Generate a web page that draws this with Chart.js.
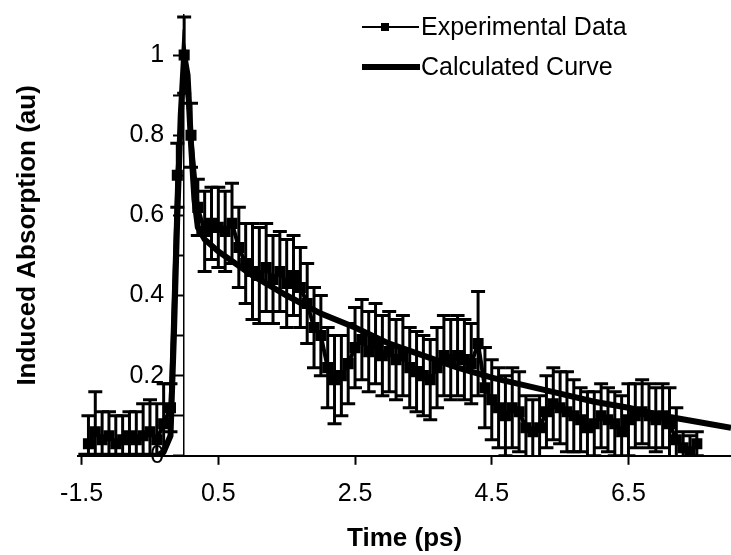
<!DOCTYPE html>
<html>
<head>
<meta charset="utf-8">
<script src="https://cdn.jsdelivr.net/npm/chart.js@4/dist/chart.umd.min.js"></script>
<style>
  html, body { margin: 0; padding: 0; background: #fff; }
  #wrap { width: 731px; height: 555px; }
</style>
</head>
<body>
<div id="wrap"><canvas id="chart"></canvas></div>
<script>
// experimental points (ps, au) and their error half-widths
const expTime = [-1.4, -1.3, -1.2, -1.1, -1.0, -0.9, -0.8, -0.7, -0.6, -0.5,
  -0.4, -0.3, -0.2, -0.1, 0.0, 0.1, 0.2, 0.3, 0.4, 0.5,
  0.6, 0.7, 0.8, 0.9, 1.0, 1.1, 1.2, 1.3, 1.4, 1.5,
  1.6, 1.7, 1.8, 1.9, 2.0, 2.1, 2.2, 2.3, 2.4, 2.5,
  2.6, 2.7, 2.8, 2.9, 3.0, 3.1, 3.2, 3.3, 3.4, 3.5,
  3.6, 3.7, 3.8, 3.9, 4.0, 4.1, 4.2, 4.3, 4.4, 4.5,
  4.6, 4.7, 4.8, 4.9, 5.0, 5.1, 5.2, 5.3, 5.4, 5.5,
  5.6, 5.7, 5.8, 5.9, 6.0, 6.1, 6.2, 6.3, 6.4, 6.5,
  6.6, 6.7, 6.8, 6.9, 7.0, 7.1, 7.2, 7.3, 7.4, 7.5];
const expValue = [0.03, 0.06, 0.04, 0.05, 0.03, 0.04, 0.05, 0.04, 0.05, 0.06,
  0.04, 0.08, 0.12, 0.70, 1.00, 0.80, 0.62, 0.56, 0.58, 0.57,
  0.56, 0.58, 0.52, 0.48, 0.46, 0.45, 0.47, 0.44, 0.46, 0.43,
  0.45, 0.42, 0.38, 0.32, 0.30, 0.22, 0.19, 0.20, 0.23, 0.27,
  0.29, 0.26, 0.28, 0.25, 0.26, 0.24, 0.25, 0.22, 0.21, 0.20,
  0.19, 0.22, 0.25, 0.24, 0.25, 0.24, 0.23, 0.28, 0.17, 0.14,
  0.12, 0.10, 0.12, 0.11, 0.07, 0.06, 0.07, 0.11, 0.13, 0.12,
  0.11, 0.10, 0.09, 0.07, 0.08, 0.10, 0.09, 0.08, 0.06, 0.09,
  0.10, 0.11, 0.10, 0.09, 0.10, 0.08, 0.04, 0.02, 0.01, 0.03];
const expError = [0.07, 0.10, 0.07, 0.06, 0.07, 0.06, 0.06, 0.07, 0.08, 0.08,
  0.09, 0.10, 0.06, 0.08, 0.095, 0.08, 0.07, 0.10, 0.09, 0.10,
  0.10, 0.10, 0.10, 0.10, 0.12, 0.12, 0.11, 0.11, 0.10, 0.11,
  0.10, 0.10, 0.10, 0.10, 0.10, 0.10, 0.11, 0.10, 0.10, 0.10,
  0.10, 0.10, 0.10, 0.10, 0.10, 0.10, 0.10, 0.10, 0.10, 0.10,
  0.10, 0.10, 0.10, 0.10, 0.10, 0.10, 0.10, 0.13, 0.10, 0.10,
  0.10, 0.10, 0.10, 0.10, 0.08, 0.08, 0.08, 0.09, 0.09, 0.09,
  0.10, 0.09, 0.08, 0.09, 0.08, 0.08, 0.08, 0.08, 0.09, 0.09,
  0.08, 0.08, 0.08, 0.08, 0.08, 0.09, 0.08, 0.04, 0.04, 0.03];

// calculated curve
const calcTime = [-1.55, -0.4, -0.3, -0.2, -0.15, -0.1, -0.05, 0.0, 0.05, 0.1,
  0.15, 0.2, 0.3, 0.5, 1.0, 1.5, 2.0, 2.5, 3.0, 3.5,
  4.0, 4.5, 5.0, 5.5, 6.0, 6.5, 7.0, 7.5, 8.0];
const calcValue = [0.0, 0.0, 0.01, 0.05, 0.30, 0.60, 0.85, 1.00, 0.95, 0.78,
  0.64, 0.57, 0.54, 0.51, 0.45, 0.40, 0.355, 0.32, 0.28, 0.25,
  0.22, 0.195, 0.175, 0.155, 0.135, 0.12, 0.10, 0.085, 0.07];

const xTicks = [-1.5, 0.5, 2.5, 4.5, 6.5];
const yTicks = [0, 0.1, 0.2, 0.3, 0.4, 0.5, 0.6, 0.7, 0.8, 0.9, 1.0];
const yLabels = ['0', '', '0.2', '', '0.4', '', '0.6', '', '0.8', '', '1'];
const seriesNames = ['Experimental Data', 'Calculated Curve'];

const FONT = "'Liberation Sans', Arial, sans-serif";

// y tick labels sit left of the axis, which crosses at t = 0
const yTickLabels = {
  id: 'yTickLabels',
  beforeDatasetsDraw(chart) {
    const { ctx } = chart;
    const x = chart.scales.x, y = chart.scales.y;
    const ax = x.getPixelForValue(0);
    ctx.save();
    ctx.font = '25px ' + FONT;
    ctx.fillStyle = '#000';
    ctx.textAlign = 'right';
    ctx.textBaseline = 'middle';
    yTicks.forEach((v, i) => {
      if (yLabels[i]) ctx.fillText(yLabels[i], ax - 20, y.getPixelForValue(v));
    });
    ctx.restore();
  }
};

const errorBars = {
  id: 'errorBars',
  afterDatasetsDraw(chart) {
    const { ctx, chartArea } = chart;
    const x = chart.scales.x, y = chart.scales.y;
    ctx.save();
    ctx.beginPath();
    ctx.rect(chartArea.left, 0, chartArea.right - chartArea.left, chartArea.bottom);
    ctx.clip();
    ctx.strokeStyle = '#000';
    ctx.lineWidth = 3;
    expTime.forEach((t, i) => {
      const px = x.getPixelForValue(t);
      const top = y.getPixelForValue(expValue[i] + expError[i]);
      const bot = y.getPixelForValue(expValue[i] - expError[i]);
      ctx.beginPath();
      ctx.moveTo(px, top);
      ctx.lineTo(px, bot);
      ctx.moveTo(px - 7, top);
      ctx.lineTo(px + 7, top);
      ctx.moveTo(px - 7, bot);
      ctx.lineTo(px + 7, bot);
      ctx.stroke();
    });
    ctx.restore();
  }
};

const legendBox = {
  id: 'legendBox',
  afterDraw(chart) {
    const ctx = chart.ctx;
    ctx.save();
    ctx.strokeStyle = '#000';
    ctx.fillStyle = '#000';
    ctx.lineWidth = 2;
    ctx.beginPath();
    ctx.moveTo(362, 27);
    ctx.lineTo(419, 27);
    ctx.stroke();
    ctx.fillRect(381, 23, 8, 8);
    ctx.lineWidth = 6;
    ctx.beginPath();
    ctx.moveTo(362, 67);
    ctx.lineTo(420, 67);
    ctx.stroke();
    ctx.font = '25px ' + FONT;
    ctx.textBaseline = 'middle';
    ctx.fillText(seriesNames[0], 421, 28);
    ctx.fillText(seriesNames[1], 421, 68);
    ctx.restore();
  }
};

new Chart(document.getElementById('chart'), {
  type: 'line',
  data: {
    datasets: [{
      label: seriesNames[1],
      data: calcTime.map((t, i) => ({ x: t, y: calcValue[i] })),
      borderColor: '#000',
      borderWidth: 6,
      pointRadius: 0,
      tension: 0
    }, {
      label: seriesNames[0],
      data: expTime.map((t, i) => ({ x: t, y: expValue[i] })),
      borderColor: '#000',
      backgroundColor: '#000',
      borderWidth: 4,
      pointStyle: 'rect',
      pointRadius: 5,
      tension: 0
    }]
  },
  options: {
    responsive: true,
    maintainAspectRatio: false,
    animation: false,
    layout: { autoPadding: false, padding: { left: 0, right: 0, top: 15, bottom: 1 } },
    plugins: { legend: { display: false }, tooltip: { enabled: false } },
    scales: {
      x: {
        type: 'linear',
        position: 'bottom',
        min: -1.55,
        max: 8,
        afterBuildTicks: axis => { axis.ticks = xTicks.map(v => ({ value: v })); },
        grid: { drawOnChartArea: false, drawTicks: true, tickLength: 9, tickWidth: 2, tickColor: '#000' },
        border: { display: true, color: '#000', width: 2 },
        ticks: { color: '#000', font: { family: FONT, size: 25 }, padding: 14, maxRotation: 0,
          callback: v => String(v) },
        title: { display: true, text: 'Time (ps)', color: '#000',
          font: { family: FONT, size: 26, weight: 'bold' }, padding: { top: 0, bottom: 0 } }
      },
      y: {
        type: 'linear',
        position: { x: 0 },
        min: 0,
        max: 1.1,
        afterBuildTicks: axis => { axis.ticks = yTicks.map(v => ({ value: v })); },
        grid: { drawOnChartArea: false, drawTicks: true, tickLength: 10, tickWidth: 2, tickColor: '#000' },
        border: { display: true, color: '#000', width: 1.5 },
        ticks: { display: false }
      },
      yTitle: {
        type: 'linear',
        position: 'left',
        grid: { display: false, drawTicks: false },
        border: { display: false },
        ticks: { display: false },
        title: { display: true, text: 'Induced Absorption (au)', color: '#000',
          font: { family: FONT, size: 26, weight: 'bold' }, padding: { top: 12, bottom: 35 } }
      }
    }
  },
  plugins: [yTickLabels, errorBars, legendBox]
});
</script>
</body>
</html>
